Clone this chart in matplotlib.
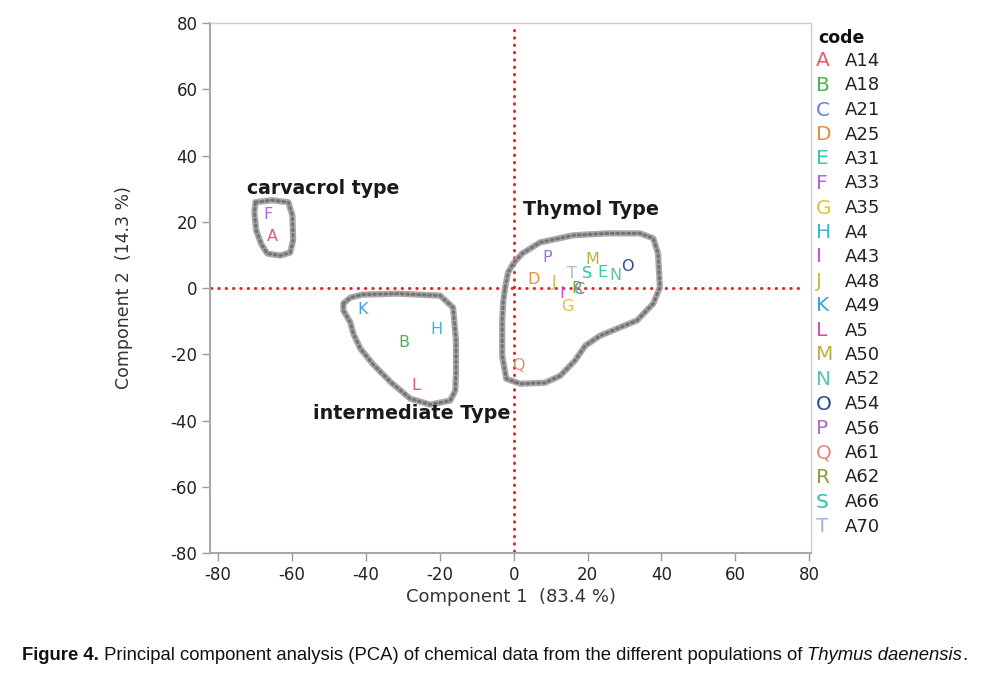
import numpy as np
import matplotlib.pyplot as plt
from matplotlib.patches import Polygon

plt.rcParams['axes.unicode_minus'] = False

# PCA scores (component 1, component 2) per population code
codes = ['A', 'B', 'C', 'D', 'E', 'F', 'G', 'H', 'I', 'J',
         'K', 'L', 'M', 'N', 'O', 'P', 'Q', 'R', 'S', 'T']
names = ['A14', 'A18', 'A21', 'A25', 'A31', 'A33', 'A35', 'A4', 'A43', 'A48',
         'A49', 'A5', 'A50', 'A52', 'A54', 'A56', 'A61', 'A62', 'A66', 'A70']
pc1 = [-65.4, -29.6, 17.7, 5.3, 24.0, -66.4, 14.5, -21.0, 13.1, 10.9,
       -41.0, -26.4, 21.2, 27.6, 30.8, 9.1, 1.2, 17.2, 19.9, 15.8]
pc2 = [15.6, -16.5, -0.5, 2.6, 4.7, 22.2, -5.6, -12.6, -1.7, 1.7,
       -6.5, -29.5, 8.6, 3.8, 6.4, 9.2, -23.4, -0.2, 4.4, 4.4]
colors = ['#e85a6e', '#4fb25a', '#6282e0', '#e0903e', '#3ec4a6',
          '#b062e0', '#dcc43c', '#3cb8d2', '#d24ed2', '#c4c04a',
          '#42a2d8', '#d452a4', '#c2b03a', '#5ec2ae', '#2c4a90',
          '#a870c8', '#e0907a', '#84a040', '#30c0a8', '#a0b8e0']

# hand drawn group outlines
carv_x = [-69.9, -65.4, -61.0, -59.9, -59.7, -60.5, -63.2, -66.7, -68.3, -69.7, -70.2]
carv_y = [25.9, 26.5, 25.9, 21.9, 14.4, 10.7, 9.8, 10.4, 13.2, 17.4, 22.8]
inter_x = [-46.1, -44.2, -41.0, -31.5, -19.9, -16.4, -15.6, -15.6, -15.8, -17.2,
           -22.6, -28.0, -33.4, -38.0, -41.5, -43.4, -44.2, -46.1]
inter_y = [-4.7, -2.9, -2.0, -1.7, -2.3, -5.9, -15.9, -25.0, -31.0, -34.0,
           -35.2, -33.4, -28.3, -23.1, -18.3, -13.8, -10.4, -6.8]
thy_x = [-2.3, -1.5, -0.1, 2.3, 7.2, 16.1, 25.3, 34.2, 37.8, 39.1, 39.6, 37.8,
         33.4, 28.8, 23.4, 19.4, 16.6, 12.6, 8.5, 1.8, -2.0, -3.1, -3.1, -2.8]
thy_y = [0.2, 4.7, 7.4, 10.4, 13.8, 15.9, 16.5, 16.5, 15.0, 10.4, 0.2, -4.7,
         -9.8, -11.9, -14.4, -17.4, -21.9, -26.5, -28.6, -28.9, -27.4, -20.4, -9.8, -3.8]

red = '#e8202a'

fig = plt.figure(figsize=(9.86, 6.73), dpi=100)
ax = fig.add_axes([0.213, 0.1783, 0.6095, 0.7875])

for xs, ys in [(carv_x, carv_y), (inter_x, inter_y), (thy_x, thy_y)]:
    pts = np.column_stack([xs, ys])
    ax.add_patch(Polygon(pts, closed=True, fill=False, ec='#9a9a9a', lw=4.5, alpha=0.85,
                         joinstyle='round', zorder=2))
    ax.add_patch(Polygon(pts, closed=True, fill=False, ec='#5e5e5e', lw=2.2, alpha=0.7,
                         ls=(0, (0.6, 1.2)), capstyle='round', joinstyle='round', zorder=2))

ax.plot([-82, 78], [0, 0], color=red, lw=2.2, ls=(0, (0.1, 2.3)), dash_capstyle='round', zorder=1)
ax.plot([0, 0], [78, -80], color=red, lw=2.2, ls=(0, (0.1, 2.3)), dash_capstyle='round', zorder=1)

for c, x, y, col in zip(codes, pc1, pc2, colors):
    ax.text(x, y, c, color=col, fontsize=11.5, ha='center', va='center', zorder=3)

ax.text(-72.1, 30.1, 'carvacrol type', fontsize=13.6, fontweight='semibold', color='#1a1a1a', va='center')
ax.text(2.6, 23.7, 'Thymol Type', fontsize=13.8, fontweight='semibold', color='#1a1a1a', va='center')
ax.text(-54.3, -38.0, 'intermediate Type', fontsize=13.8, fontweight='semibold', color='#1a1a1a', va='center')

ax.set_xlim(-82.2, 80.5)
ax.set_ylim(-80, 80)
ax.set_xticks(np.arange(-80, 81, 20))
ax.set_yticks(np.arange(-80, 81, 20))
ax.tick_params(length=6, width=1, color='#9a9a9a', labelsize=12, labelcolor='#222222', pad=3)
for s in ['left', 'bottom']:
    ax.spines[s].set_color('#a8a8a8')
    ax.spines[s].set_linewidth(1.5)
for s in ['top', 'right']:
    ax.spines[s].set_color('#cccccc')
    ax.spines[s].set_linewidth(1)
for t in ax.xaxis.get_major_ticks() + ax.yaxis.get_major_ticks():
    if t.get_loc() == 0:
        t.tick1line.set_color(red)

ax.set_xlabel('Component 1  (83.4 %)', fontsize=13, color='#333333', labelpad=3)
ax.set_ylabel('Component 2  (14.3 %)', fontsize=12.5, color='#333333', labelpad=27)

# legend
fig.text(818 / 986, 1 - 38 / 673, 'code', fontsize=12.5, fontweight='bold', color='#111111', va='center')
for i, (c, n, col) in enumerate(zip(codes, names, colors)):
    yy = 1 - (61 + i * 24.5) / 673
    fig.text(816 / 986, yy, c, fontsize=14.5, color=col, va='center')
    fig.text(845 / 986, yy, n, fontsize=13, color='#222222', va='center')

# caption
parts = [('Figure 4.', 'bold', 'normal'),
         (' Principal component analysis (PCA) of chemical data from the different populations of ', 'normal', 'normal'),
         ('Thymus daenensis', 'normal', 'italic'),
         ('.', 'normal', 'normal')]
fig.canvas.draw()
r = fig.canvas.get_renderer()
xpos = 22
for txt, w, st in parts:
    t = fig.text(xpos / 986, 1 - 660 / 673, txt, fontsize=13.35, family='Liberation Sans',
                 fontweight=w, fontstyle=st, va='baseline', color='#111111')
    xpos = t.get_window_extent(r).x1

fig.savefig('out.png', dpi=100)
